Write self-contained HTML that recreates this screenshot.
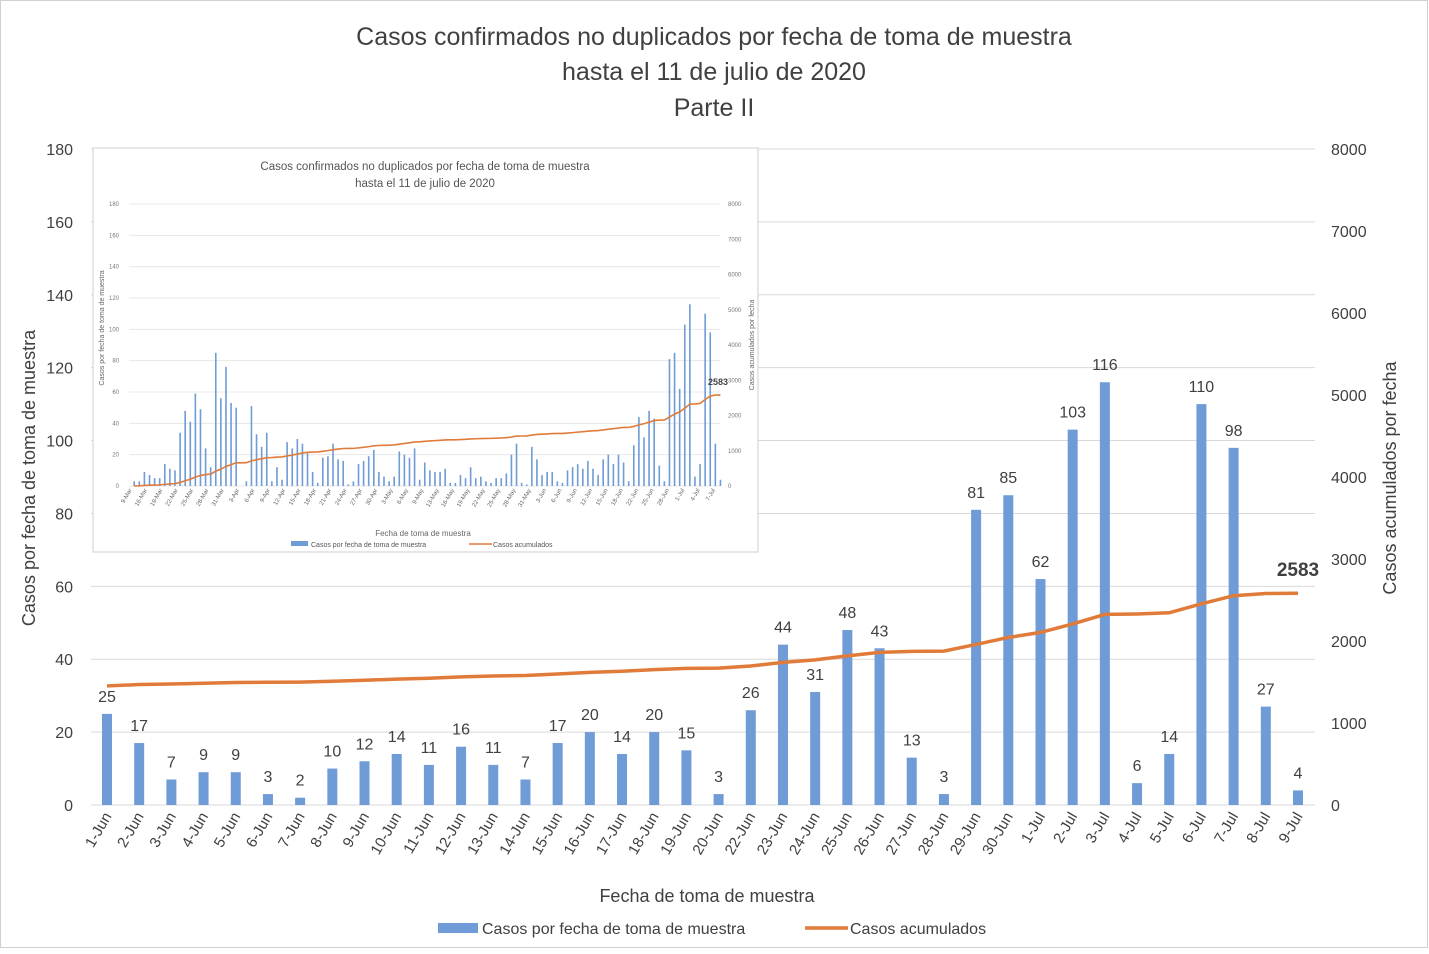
<!DOCTYPE html>
<html><head><meta charset="utf-8"><style>
body{margin:0;background:#fff;}
svg text{font-family:"Liberation Sans",sans-serif;}
</style></head><body>
<svg id="s" width="1429" height="949" xmlns="http://www.w3.org/2000/svg"></svg>
<script>
var s=document.getElementById('s');var h='';
h+='<rect x="0.5" y="0.5" width="1427" height="947" fill="#fff" stroke="#d0d0d0"/>';
h+='<text x="714" y="45" font-size="25" fill="#404040" text-anchor="middle">Casos confirmados no duplicados por fecha de toma de muestra</text>';
h+='<text x="714" y="80" font-size="25" fill="#404040" text-anchor="middle">hasta el 11 de julio de 2020</text>';
h+='<text x="714" y="116" font-size="25" fill="#404040" text-anchor="middle">Parte II</text>';
var y0=805,pxU=656/180;
for(var i=0;i<=9;i++){var y=y0-i*20*pxU;
 if(i>0)h+='<line x1="91" x2="1315" y1="'+y+'" y2="'+y+'" stroke="#d9d9d9"/>';
 h+='<text x="73" y="'+(y+6)+'" font-size="16" fill="#404040" text-anchor="end">'+(i*20)+'</text>';}
for(var i=0;i<=8;i++){var y=y0-i*1000*656/8000;
 h+='<text x="1331" y="'+(y+6)+'" font-size="16" fill="#404040">'+(i*1000)+'</text>';}
h+='<line x1="91" x2="1315" y1="805" y2="805" stroke="#d9d9d9"/>';
var labs=['1-Jun','2-Jun','3-Jun','4-Jun','5-Jun','6-Jun','7-Jun','8-Jun','9-Jun','10-Jun','11-Jun','12-Jun','13-Jun','14-Jun','15-Jun','16-Jun','17-Jun','18-Jun','19-Jun','20-Jun','22-Jun','23-Jun','24-Jun','25-Jun','26-Jun','27-Jun','28-Jun','29-Jun','30-Jun','1-Jul','2-Jul','3-Jul','4-Jul','5-Jul','6-Jul','7-Jul','8-Jul','9-Jul'];
var v=[25,17,7,9,9,3,2,10,12,14,11,16,11,7,17,20,14,20,15,3,26,44,31,48,43,13,3,81,85,62,103,116,6,14,110,98,27,4];
var dx=(1298-107)/37,c=1427,pts=[];
for(var i=0;i<38;i++){var x=107+i*dx,bh=v[i]*pxU;
 h+='<rect x="'+(x-5)+'" y="'+(y0-bh)+'" width="10" height="'+bh+'" fill="#6f9bd6"/>';
 h+='<text x="'+x+'" y="'+(y0-bh-12)+'" font-size="16" fill="#404040" text-anchor="middle">'+v[i]+'</text>';
 h+='<text transform="translate('+(x+5)+',816) rotate(-60)" font-size="15" fill="#404040" text-anchor="end">'+labs[i]+'</text>';
 c+=v[i];pts.push(x+','+(y0-c*656/8000));}
h+='<polyline points="'+pts.join(' ')+'" fill="none" stroke="#e07b39" stroke-width="3.5"/>';
h+='<text x="1298" y="576" font-size="19" font-weight="bold" fill="#404040" text-anchor="middle">2583</text>';
h+='<text transform="translate(35,478) rotate(-90)" font-size="18" fill="#404040" text-anchor="middle">Casos por fecha de toma de muestra</text>';
h+='<text transform="translate(1396,478) rotate(-90)" font-size="18" fill="#404040" text-anchor="middle">Casos acumulados por fecha</text>';
h+='<text x="707" y="902" font-size="18" fill="#404040" text-anchor="middle">Fecha de toma de muestra</text>';
h+='<rect x="438" y="923" width="40" height="10" fill="#6f9bd6"/><text x="482" y="934" font-size="16" fill="#404040">Casos por fecha de toma de muestra</text>';
h+='<line x1="805" x2="848" y1="928" y2="928" stroke="#e07b39" stroke-width="3.5"/><text x="850" y="934" font-size="16" fill="#404040">Casos acumulados</text>';
h+='<rect x="93" y="148" width="665" height="404" fill="#fff" stroke="#cfcfcf"/>';
h+='<text x="425" y="170" font-size="11.5" fill="#555" text-anchor="middle">Casos confirmados no duplicados por fecha de toma de muestra</text>';
h+='<text x="425" y="187" font-size="11.5" fill="#555" text-anchor="middle">hasta el 11 de julio de 2020</text>';
var iy0=486,ih=282;
for(var i=0;i<=9;i++){var y=iy0-i*ih/9;
 h+='<line x1="129" x2="720" y1="'+y+'" y2="'+y+'" stroke="#e3e3e3" stroke-width="0.8"/>';
 h+='<text x="119" y="'+(y+2)+'" font-size="6" fill="#777" text-anchor="end">'+(i*20)+'</text>';}
for(var i=0;i<=8;i++){var y=iy0-i*ih/8;h+='<text x="728" y="'+(y+2)+'" font-size="6" fill="#777">'+(i*1000)+'</text>';}
var iv=[3,3,9,7,5,5,14,11,10,34,48,41,59,49,24,12,85,56,76,53,50,0,3,51,33,25,34,3,12,4,28,24,30,27,21,9,2,18,19,27,17,16,1,3,14,16,19,23,9,6,3,6,22,20,18,24,4,15,10,9,9,11,2,2,7,5,12,5,6,3,2,5,5,8,20,27,2,1,25,17,7,9,9,3,2,10,12,14,11,16,11,7,17,20,14,20,15,3,26,44,31,48,43,13,3,81,85,62,103,116,6,14,110,98,27,4];
var tot=0;iv.forEach(function(a){tot+=a;});
var cc=0,ip=[],ix0=93+97/2.354,idx=12/2.354;
var il=['9-Mar','16-Mar','19-Mar','22-Mar','25-Mar','28-Mar','31-Mar','3-Apr','6-Apr','9-Apr','12-Apr','15-Apr','18-Apr','21-Apr','24-Apr','27-Apr','30-Apr','3-May','6-May','9-May','13-May','16-May','19-May','22-May','25-May','28-May','31-May','3-Jun','6-Jun','9-Jun','12-Jun','15-Jun','18-Jun','22-Jun','25-Jun','28-Jun','1-Jul','4-Jul','7-Jul'];
for(var i=0;i<iv.length;i++){var x=ix0+i*idx,bh=iv[i]*ih/180;
 h+='<rect x="'+(x-0.8)+'" y="'+(iy0-bh)+'" width="1.6" height="'+bh+'" fill="#6f9bd6"/>';
 cc+=iv[i];ip.push(x+','+(iy0-cc/tot*2583*ih/8000));}
for(var k=0;k<il.length;k++){var x=129+k*(591/38.5);
 h+='<text transform="translate('+(x+3)+',490) rotate(-60)" font-size="6" fill="#666" text-anchor="end">'+il[k]+'</text>';}
h+='<polyline points="'+ip.join(' ')+'" fill="none" stroke="#e07b39" stroke-width="1.6"/>';
h+='<text x="718" y="385" font-size="9" font-weight="bold" fill="#444" text-anchor="middle">2583</text>';
h+='<text transform="translate(104,328) rotate(-90)" font-size="7" fill="#666" text-anchor="middle">Casos por fecha de toma de muestra</text>';
h+='<text transform="translate(754,345) rotate(-90)" font-size="7" fill="#666" text-anchor="middle">Casos acumulados por fecha</text>';
h+='<text x="423" y="536" font-size="8" fill="#666" text-anchor="middle">Fecha de toma de muestra</text>';
h+='<rect x="291" y="541" width="17" height="5" fill="#6f9bd6"/><text x="311" y="547" font-size="7" fill="#555">Casos por fecha de toma de muestra</text>';
h+='<line x1="469" x2="492" y1="544" y2="544" stroke="#e07b39" stroke-width="1.5"/><text x="493" y="547" font-size="7" fill="#555">Casos acumulados</text>';
s.innerHTML=h;
</script>
</body></html>
